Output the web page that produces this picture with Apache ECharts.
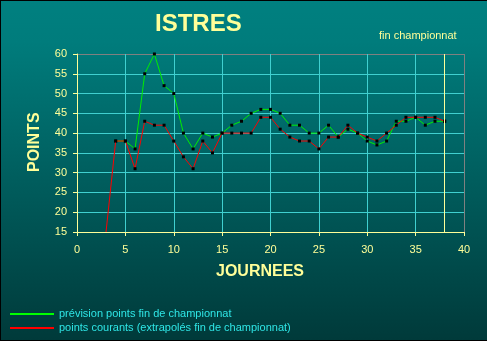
<!DOCTYPE html>
<html>
<head>
<meta charset="utf-8">
<script src="https://cdn.jsdelivr.net/npm/echarts@6/dist/echarts.min.js"></script>
<style>
html,body{margin:0;padding:0;background:#000;}
#wrap{width:487px;height:341px;box-sizing:border-box;border-left:1px solid #000;border-top:1px solid #000;border-bottom:1px solid #000;}
#chart{width:486px;height:339px;}
</style>
</head>
<body>
<div id="wrap"><div id="chart"></div></div>
<script>
const days = [3,4,5,6,7,8,9,10,11,12,13,14,15,16,17,18,19,20,21,22,23,24,25,26,27,28,29,30,31,32,33,34,35,36,37,38];
const previsionValues = [null,38,38,36,55,60,52,50,40,36,40,39,40,42,43,45,46,46,45,42,42,40,40,42,39,41,40,38,37,38,43,43,44,42,43,43];
const courantsValues = [15,38,38,31,43,42,42,38,34,31,38,35,40,40,40,40,44,44,41,39,38,38,36,39,39,42,40,39,38,40,42,44,44,44,44,43];
const xTicks = {min:0, max:40, interval:5};
const yTicks = {min:15, max:60, interval:5};
const finJournee = 38;
const seriesNames = ['prévision points fin de championnat', 'points courants (extrapolés fin de championnat)'];

const FONT = '"Liberation Sans", Arial, sans-serif';
const YEL = '#ffff99';
const GRIDC = '#40d0d0';
const GREY = '#808080';

function pairs(vals){
  return days.map((d,i)=> vals[i]===null ? null : {value:[d, vals[i]], symbol: (i===0 ? 'none' : 'rect')}).filter(p=>p!==null);
}
function splitColors(n){ const a=[]; for(let i=0;i<n;i++) a.push(i===n-1?GREY:GRIDC); return a; }

const chart = echarts.init(document.getElementById('chart'));
chart.setOption({
  animation:false,
  backgroundColor:{type:'linear',x:0,y:0,x2:0,y2:1,colorStops:[{offset:0,color:'#008080'},{offset:0.12,color:'#007c7c'},{offset:1,color:'#003a3a'}]},
  textStyle:{fontFamily:FONT},
  grid:{left:76,right:23,top:53,bottom:108,containLabel:false},
  graphic:[
    {type:'text',left:154,top:11,style:{text:'ISTRES',fill:YEL,font:'bold 24px '+FONT}},
    {type:'text',left:378,top:29,style:{text:'fin championnat',fill:YEL,font:'11px '+FONT}},
    {type:'text',left:215,top:263,style:{text:'JOURNEES',fill:YEL,font:'bold 16px '+FONT}},
    {type:'text',x:26,y:171,rotation:Math.PI/2,style:{text:'POINTS',fill:YEL,font:'bold 16px '+FONT}}
  ],
  legend:{
    orient:'vertical',left:4,top:302,itemWidth:44,itemHeight:2,itemGap:2,icon:'rect',
    textStyle:{color:'#2ee6e6',fontSize:11,fontFamily:FONT,lineHeight:12},
    data:[{name:seriesNames[0],itemStyle:{color:'#00ff00'}},{name:seriesNames[1],itemStyle:{color:'#ff0000'}}]
  },
  xAxis:{type:'value',min:xTicks.min,max:xTicks.max,interval:xTicks.interval,
    axisLine:{show:true,lineStyle:{color:YEL,width:1}},
    axisTick:{show:true,inside:false,length:4,lineStyle:{color:YEL}},
    axisLabel:{color:YEL,fontSize:11,margin:12,fontFamily:FONT},
    splitLine:{show:true,lineStyle:{color:splitColors(9),width:1}}},
  yAxis:{type:'value',min:yTicks.min,max:yTicks.max,interval:yTicks.interval,
    axisLine:{show:true,lineStyle:{color:YEL,width:1}},
    axisTick:{show:true,inside:false,length:4,lineStyle:{color:YEL}},
    axisLabel:{color:YEL,fontSize:11,margin:10,fontFamily:FONT},
    splitLine:{show:true,lineStyle:{color:splitColors(10),width:1}}},
  series:[
    {name:seriesNames[0],type:'line',data:pairs(previsionValues),symbolSize:3,
     lineStyle:{color:'#00ee00',width:1},itemStyle:{color:'#000'},z:2,
     markLine:{silent:true,symbol:'none',label:{show:false},lineStyle:{color:YEL,type:'solid',width:1},data:[{xAxis:finJournee}]}},
    {name:seriesNames[1],type:'line',data:pairs(courantsValues),symbolSize:3,
     lineStyle:{color:'#ff0000',width:1},itemStyle:{color:'#000'},z:3}
  ]
});
</script>
</body>
</html>
